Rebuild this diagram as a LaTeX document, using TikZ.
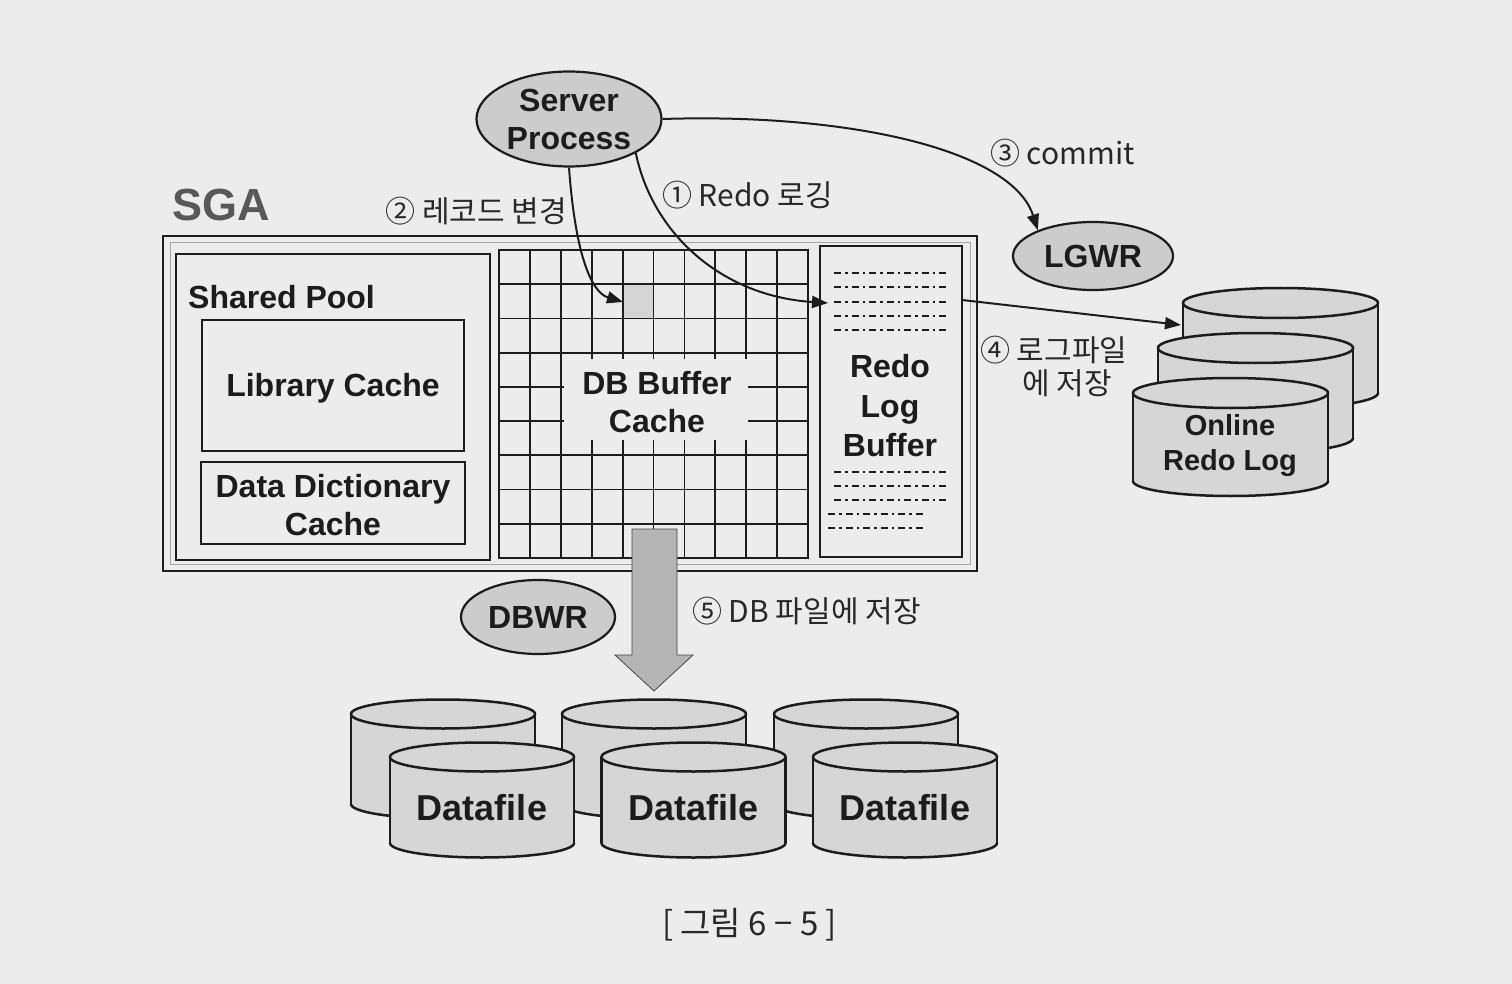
\documentclass[tikz,border=0pt]{standalone}
\usepackage{fontspec}
\setmainfont{Liberation Sans}
\newfontfamily\krfont{Noto Sans CJK KR}
\usetikzlibrary{shapes.geometric,arrows.meta}
\definecolor{bg}{RGB}{236,236,236}
\definecolor{ink}{RGB}{28,28,28}
\definecolor{ink2}{RGB}{40,40,40}
\definecolor{procgray}{RGB}{204,204,204}
\definecolor{cylgray}{RGB}{214,214,214}
\definecolor{arrgray}{RGB}{180,180,180}
\definecolor{cellgray}{RGB}{212,212,212}
\definecolor{sgagray}{RGB}{88,88,88}
\newcommand\mycyl[5]{% cx, topy, rx, ry, h
  \fill[cylgray] (#1-#3,#2) rectangle (#1+#3,#2+#5);
  \fill[cylgray] (#1,#2+#5) ellipse[x radius=#3, y radius=#4];
  \fill[cylgray] (#1,#2) ellipse[x radius=#3, y radius=#4];
  \draw[cylline] (#1-#3,#2) -- (#1-#3,#2+#5);
  \draw[cylline] (#1+#3,#2) -- (#1+#3,#2+#5);
  \begin{scope}
    \clip (#1-#3-6,#2+#5) rectangle (#1+#3+6,#2+#5+#4+6);
    \draw[cylline] (#1,#2+#5) ellipse[x radius=#3, y radius=#4];
  \end{scope}
  \draw[cylline] (#1,#2) ellipse[x radius=#3, y radius=#4];
}
\begin{document}
\begin{tikzpicture}[x=1pt,y=-1pt,
  box/.style={draw=ink, line width=2.8pt, inner sep=0, fill=none},
  lbl/.style={font=\fontsize{32}{38}\selectfont\bfseries, text=ink, align=center, inner sep=0},
  kr/.style={font=\krfont\fontsize{30}{34}\selectfont, text=ink2, inner sep=0},
  proc/.style={ellipse, draw=ink, line width=2.2pt, fill=procgray, inner sep=0, lbl},
  gridline/.style={draw=ink, line width=1.8pt},
  dd/.style={draw=ink, line width=1.6pt, dash pattern=on 7pt off 4pt on 2.5pt off 4pt},
  cylline/.style={draw=ink, line width=2.5pt},
  arr/.style={draw=ink, line width=2pt, -{Triangle[length=16pt,width=12pt]}}]
\fill[bg] (0,0) rectangle (1512,984);
\useasboundingbox (0,0) rectangle (1512,984);

% SGA
\node[lbl, font=\fontsize{45}{50}\selectfont\bfseries, text=sgagray, anchor=west] (sgalbl) at (172,205) {SGA};
\node[box, minimum width=814pt, minimum height=335pt] (sga) at (570,403.5) {};
\draw[gray!70, line width=1pt] (170,243) rectangle (970,564);

% Shared pool
\node[box, minimum width=314pt, minimum height=306pt] (shp) at (333,407) {};
\node[lbl, anchor=west] (shplbl) at (188,297) {Shared Pool};
\node[box, minimum width=262pt, minimum height=131pt] (lib) at (333,385.5) {};
\node[lbl] (libtxt) at (333,388) {Library Cache};
\node[box, minimum width=264pt, minimum height=82pt] (ddc) at (333,503) {};
\node[lbl] (ddctxt) at (333,505) {Data Dictionary\\Cache};

% DB buffer cache grid
\fill[cellgray] (622.6,284.2) rectangle (653.5,318.4);
\foreach \k in {0,...,10}{
  \pgfmathsetmacro\xx{499+\k*30.9}
  \ifnum\k>2 \ifnum\k<9
    \draw[gridline] (\xx,250) -- (\xx,359);
    \draw[gridline] (\xx,440) -- (\xx,558);
  \else
    \draw[gridline] (\xx,250) -- (\xx,558);
  \fi\else
    \draw[gridline] (\xx,250) -- (\xx,558);
  \fi
}
\foreach \j in {0,...,9}{
  \pgfmathsetmacro\yy{250+\j*34.2}
  \ifnum\j>3 \ifnum\j<6
    \draw[gridline] (499,\yy) -- (564,\yy);
    \draw[gridline] (748,\yy) -- (808,\yy);
  \else
    \draw[gridline] (499,\yy) -- (808,\yy);
  \fi\else
    \draw[gridline] (499,\yy) -- (808,\yy);
  \fi
}
\node[box, minimum width=309pt, minimum height=308pt] (dbbc) at (653.5,404) {};
\node[lbl] (dbbctxt) at (657,402) {DB Buffer\\Cache};

% Redo log buffer
\node[box, minimum width=142pt, minimum height=311pt] (rlb) at (891,401.5) {};
\foreach \y in {273,287,302,316,330,472,486,500}{
  \draw[dd] (834,\y) -- (946,\y);
}
\foreach \y in {514,528}{
  \draw[dd] (828,\y) -- (926,\y);
}
\node[lbl, font=\fontsize{32}{39.5}\selectfont\bfseries] (rlbtxt) at (890,406) {Redo\\Log\\Buffer};

% processes
\node[proc, minimum width=185pt, minimum height=95pt] (sp) at (569,119) {Server\\Process};
\node[proc, minimum width=160pt, minimum height=68pt] (lgwr) at (1093,256) {LGWR};
\node[proc, minimum width=154pt, minimum height=74pt] (dbwr) at (538,617) {DBWR};

% connector end points
\coordinate (cellin) at (623,302);
\coordinate (rlbin) at (828,303);
\coordinate (rlbout) at (962,300);
\coordinate (orlin) at (1181,325);

\draw[arr] (sp.south) .. controls (575,250) and (590,292) .. (cellin);
\draw[arr] (sp.-27) .. controls (652,232) and (720,296) .. (rlbin);
\draw[arr] (sp.east) .. controls (850,113) and (1012,150) .. (lgwr.155);

% labels
\node[kr, anchor=east] (l2) at (567,211) {② 레코드 변경};
\node[kr, anchor=west] (l1) at (662,195) {① Redo 로깅};
\node[kr, anchor=west] (l3) at (990,153) {③ commit};
\node[kr, anchor=west] (l4a) at (980,350) {④ 로그파일};
\node[kr, anchor=west] (l4b) at (1022,383) {에 저장};
\node[kr, anchor=west] (l5) at (692,611) {⑤ DB 파일에 저장};
\node[kr, font=\krfont\fontsize{33}{36}\selectfont] (cap) at (749.5,925) {[ 그림 6 − 5 ]};

% big arrow DBWR
\filldraw[fill=arrgray, draw=gray!55!black, line width=0.8pt]
  (632,529) -- (677,529) -- (677,655) -- (693,655) -- (654,691) -- (615,655) -- (632,655) -- cycle;

% online redo log cylinders
\mycyl{1280.5}{303}{97.5}{15}{90}
\mycyl{1255.5}{348}{97.5}{15}{90}
\mycyl{1230.5}{393}{97.5}{15}{88}
\node[lbl, font=\fontsize{29}{35}\selectfont\bfseries] (orl) at (1230,446) {Online\\Redo Log};
\draw[arr] (rlbout) -- (orlin);

% datafiles
\mycyl{443}{714}{92}{14.5}{90}
\mycyl{654}{714}{92}{14.5}{90}
\mycyl{866}{714}{92}{14.5}{90}
\mycyl{482}{757}{92}{14.5}{86}
\mycyl{693.5}{757}{92}{14.5}{86}
\mycyl{905}{757}{92}{14.5}{86}
\node[lbl, font=\fontsize{36}{40}\selectfont\bfseries] (df1) at (482,808) {Datafile};
\node[lbl, font=\fontsize{36}{40}\selectfont\bfseries] (df2) at (693.5,808) {Datafile};
\node[lbl, font=\fontsize{36}{40}\selectfont\bfseries] (df3) at (905,808) {Datafile};
\end{tikzpicture}
\end{document}
